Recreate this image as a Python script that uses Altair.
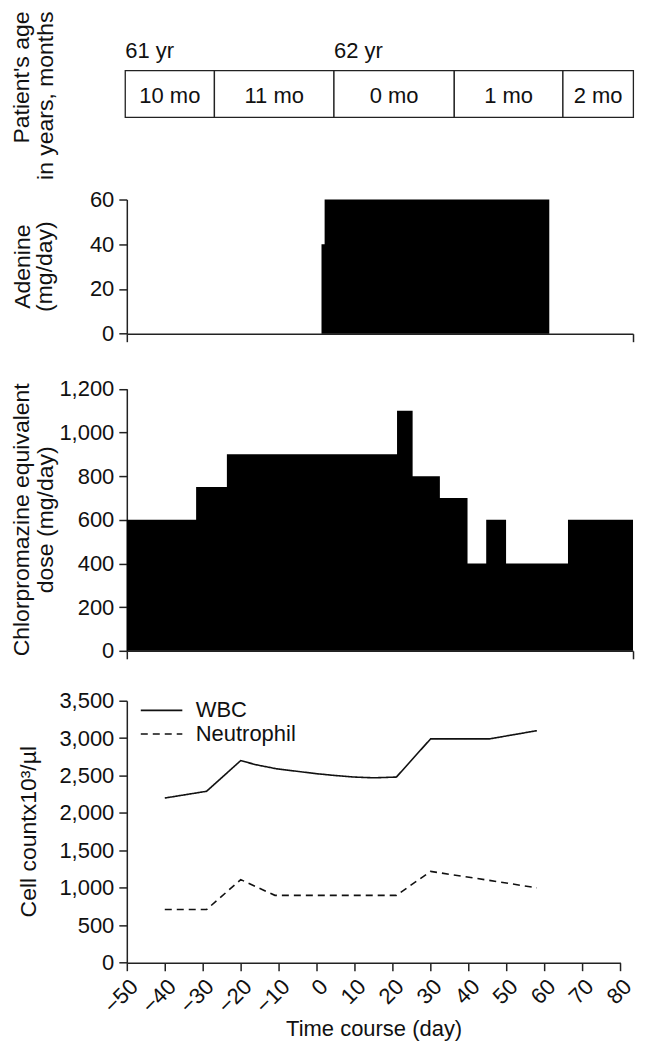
import altair as alt
import pandas as pd

# ---------------- data ----------------
# Patient's age row (boundaries in days on the time course)
month_labels = ["10 mo", "11 mo", "0 mo", "1 mo", "2 mo"]
month_start = [-50.4, -27.5, 3.2, 34.1, 62.0]
month_end = [-27.5, 3.2, 34.1, 62.0, 80.1]
year_labels = ["61 yr", "62 yr"]
year_start = [-50.4, 3.2]

# Adenine (mg/day): dose starting at each day, held until the next day
aden_start = [0, 0.8]
aden_end = [0.8, 58.5]
aden_dose = [40, 60]

# Chlorpromazine equivalent dose (mg/day)
cp_start = [-50, -32.2, -24.3, 19.4, 23.4, 30.4, 37.5, 42.3, 47.4, 63.3]
cp_end = [-32.2, -24.3, 19.4, 23.4, 30.4, 37.5, 42.3, 47.4, 63.3, 80]
cp_dose = [600, 750, 900, 1100, 800, 700, 400, 600, 400, 600]

# Cell counts
series_names = ["WBC", "Neutrophil"]
wbc_day = [-40, -29, -20, -16, -10.5, 0, 5, 10, 15, 21, 30, 45.5, 58]
wbc_count = [2200, 2290, 2700, 2645, 2590, 2525, 2500, 2480, 2470, 2480, 2990, 2990, 3100]
neu_day = [-40, -29, -20, -11, 21, 30, 45.5, 58]
neu_count = [710, 710, 1110, 900, 900, 1220, 1100, 1000]

x_ticks = list(range(-50, 81, 10))
aden_ticks = [0, 20, 40, 60]
cp_ticks = [0, 200, 400, 600, 800, 1000, 1200]
cell_ticks = [0, 500, 1000, 1500, 2000, 2500, 3000, 3500]

# ---------------- style ----------------
FONT = "Liberation Sans"
FS = 22
TFS = 23
INK = "#111111"
LINE = "#222222"

SPACING = 50
W_UP = 507
W_LOW = 494.4
BOX_H = 46.7
AGE_H = 79
ADEN_H = 134.4
CP_PAD = 4.6
CP_H = 262.4 + CP_PAD
CELL_H = 262.4

one = pd.DataFrame({"k": [0]})
x_up = alt.Scale(domain=[-50, 80], nice=False, zero=False)
x_up_axis = alt.Axis(values=[-50, 80], labels=False, title=None, grid=False)


def ytitle(lines, x, y, align="center", line_height=24):
    return alt.Chart(one).mark_text(
        text=lines, angle=270, align=align, baseline="middle",
        lineHeight=line_height, font=FONT, fontSize=TFS, color=INK
    ).encode(x=alt.value(x), y=alt.value(y))


def step_table(starts, ends, doses):
    # step-after outline: each dose begins at its start day; the last one ends at its end day
    return pd.DataFrame({"day": list(starts) + [ends[-1]],
                         "dose": list(doses) + [doses[-1]]})


# ---------------- age panel ----------------
age_df = pd.DataFrame({"label": month_labels, "start": month_start, "end": month_end})
year_df = pd.DataFrame({"label": year_labels, "start": year_start})

age_box = alt.Chart(age_df).mark_rect(fill="white", stroke=LINE, strokeWidth=1.3).encode(
    x=alt.X("start:Q", scale=x_up, axis=None), x2="end:Q",
    y=alt.value(0), y2=alt.value(BOX_H))
age_lbl = alt.Chart(age_df).transform_calculate(
    mid="(datum.start + datum.end) / 2"
).mark_text(font=FONT, fontSize=FS, color=INK, baseline="middle").encode(
    x=alt.X("mid:Q", scale=x_up, axis=None), y=alt.value(BOX_H / 2 + 1.5), text="label:N")
yr_lbl = alt.Chart(year_df).mark_text(
    font=FONT, fontSize=FS, color=INK, align="left", baseline="alphabetic"
).encode(x=alt.X("start:Q", scale=x_up, axis=None), y=alt.value(-13), text="label:N")
age_title = ytitle(["Patient's age", "in years, months"], -104.5, -59.3, align="right")

age_panel = alt.layer(age_box, age_lbl, yr_lbl, age_title).properties(width=W_UP, height=AGE_H)

# ---------------- adenine panel ----------------
aden_area = alt.Chart(step_table(aden_start, aden_end, aden_dose)).mark_area(
    interpolate="step-after", color="black"
).encode(
    x=alt.X("day:Q", scale=x_up, axis=x_up_axis),
    y=alt.Y("dose:Q", scale=alt.Scale(domain=[0, 60], nice=False),
            axis=alt.Axis(values=aden_ticks, title=None, grid=False)))
aden_title = ytitle(["Adenine", "(mg/day)"], -103.5, ADEN_H / 2, line_height=22)
aden_panel = alt.layer(aden_area, aden_title).properties(width=W_UP, height=ADEN_H)

# ---------------- chlorpromazine panel ----------------
cp_area = alt.Chart(step_table(cp_start, cp_end, cp_dose)).mark_area(
    interpolate="step-after", color="black"
).encode(
    x=alt.X("day:Q", scale=x_up, axis=x_up_axis),
    y=alt.Y("dose:Q", scale=alt.Scale(domain=[0, 1200], nice=False, range=[CP_H, CP_PAD]),
            axis=alt.Axis(values=cp_ticks, format=",d", title=None, grid=False)))
cp_title = ytitle(["Chlorpromazine equivalent", "dose (mg/day)"], -104.5, (CP_H + CP_PAD) / 2)
cp_panel = alt.layer(cp_area, cp_title).properties(width=W_UP, height=CP_H)

# ---------------- cell count panel ----------------
cell_df = pd.concat([
    pd.DataFrame({"day": wbc_day, "count": wbc_count, "series": series_names[0]}),
    pd.DataFrame({"day": neu_day, "count": neu_count, "series": series_names[1]}),
], ignore_index=True)

cell_lines = alt.Chart(cell_df).mark_line(color=INK, strokeWidth=1.6).encode(
    x=alt.X("day:Q", scale=alt.Scale(domain=[-50, 80], nice=False, zero=False),
            axis=alt.Axis(values=x_ticks, format="d", labelAngle=-45,
                          title="Time course (day)", grid=False)),
    y=alt.Y("count:Q", scale=alt.Scale(domain=[0, 3500], nice=False),
            axis=alt.Axis(values=cell_ticks, format=",d", title=None, grid=False)),
    strokeDash=alt.StrokeDash("series:N",
                              scale=alt.Scale(domain=series_names, range=[[1, 0], [7, 5]]),
                              legend=None),
)

leg_wbc_line = alt.Chart(one).mark_rule(color=INK, strokeWidth=1.6).encode(
    x=alt.value(14), x2=alt.value(55.6), y=alt.value(9.7))
leg_neu_line = alt.Chart(one).mark_rule(color=INK, strokeWidth=1.6, strokeDash=[7, 5]).encode(
    x=alt.value(14), x2=alt.value(55.6), y=alt.value(33.4))
leg_wbc_txt = alt.Chart(one).mark_text(
    text=series_names[0], align="left", baseline="middle", font=FONT, fontSize=FS, color=INK
).encode(x=alt.value(69), y=alt.value(9.7))
leg_neu_txt = alt.Chart(one).mark_text(
    text=series_names[1], align="left", baseline="middle", font=FONT, fontSize=FS, color=INK
).encode(x=alt.value(69), y=alt.value(33.4))

cell_title = ytitle("Cell countx10³/µl", -97.7, CELL_H / 2)

cell_panel = alt.layer(
    cell_lines, leg_wbc_line, leg_neu_line, leg_wbc_txt, leg_neu_txt, cell_title
).properties(width=W_LOW, height=CELL_H)

# ---------------- assemble ----------------
chart = alt.vconcat(
    age_panel, aden_panel, cp_panel, cell_panel, spacing=SPACING, bounds="flush"
).properties(
    padding={"left": 3, "top": 2, "right": 2, "bottom": 2},
    background="white",
).configure_view(stroke=None).configure_axis(
    domainColor=LINE, domainWidth=1.5, tickColor=LINE, tickWidth=1.5, tickSize=8,
    labelFont=FONT, labelFontSize=FS, labelColor=INK, labelPadding=5,
    labelFlush=False, labelOverlap=False,
    titleFont=FONT, titleFontSize=FS, titleColor=INK, titleFontWeight="normal",
    titlePadding=2, grid=False
)

chart.save("out.html", embed_options={"renderer": "svg", "actions": False})
